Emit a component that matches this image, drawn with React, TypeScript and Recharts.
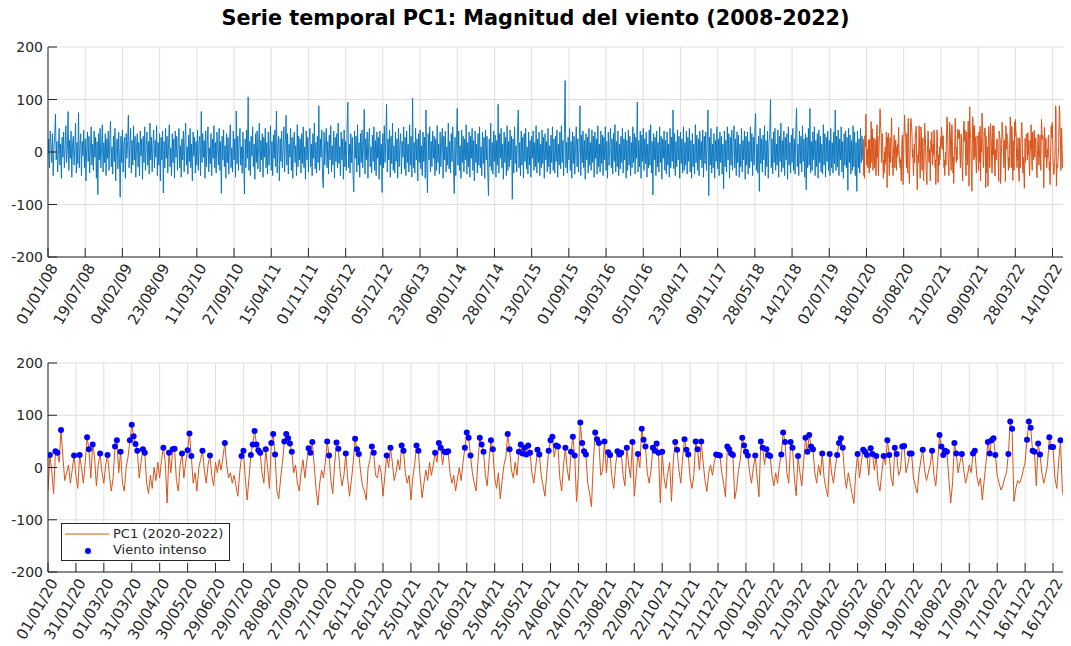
import React from "react";
import { ComposedChart, Line, Scatter, XAxis, YAxis, CartesianGrid } from "recharts";

// PC1 2008-2019, one value every 4 days
const pc1Historico = [
  -5, 25, -30, 40, 12, -20, 35, -45, 8, 30, 72, -15, 20, -38, 5, 45, -25, 15, -50, 28,
  -10, 38, -30, 10, 50, -20, 5, 77, -35, 22, -12, 40, -48, 15, 30, -25, 8, 55, -40, 18,
  -22, 75, -30, 12, 35, -45, 20, -8, 42, -30, 25, -55, 10, 38, -18, 30, -40, 5, 48, -25,
  15, -35, 40, -10, 28, -50, 20, -81, 35, -15, 45, -30, 8, 52, -38, 18, -20, 35, -45, 25,
  -12, 40, -35, 20, 58, -28, 10, -42, 30, -18, 45, -55, 15, 25, -32, 38, -10, -86, 30, -20,
  42, -38, 15, 28, -50, 35, -12, 20, 70, -30, 10, 45, -40, 22, -25, 50, -15, 30, -48, 12,
  35, -28, 18, -45, 40, -8, 25, -52, 30, -20, 48, -35, 10, 38, -25, 20, -42, 55, -15, 28,
  -38, 15, 42, -30, 22, -10, 50, -45, 18, -25, 35, -55, 28, -15, 40, -78, 20, -30, 45, -12,
  30, -40, 15, 52, -28, 8, -45, 35, -20, 25, -50, 40, -10, 30, -35, 18, 45, -30, 12, -48,
  25, -15, 40, -38, 20, 55, -25, 10, -42, 32, -18, 45, -30, 15, -55, 38, -8, 28, -40, 20,
  -25, 42, -35, 18, 30, -45, 77, -20, 35, -10, 22, -50, 40, -28, 15, 48, -38, 8, -22, 35,
  -45, 25, -12, 50, -30, 18, -40, 38, 10, -25, 45, -35, 20, -79, 30, -15, 42, -28, 12, -50,
  35, -20, 28, -42, 15, 52, -30, 8, -38, 40, -15, 25, -48, 78, -22, 30, -35, 18, 45, -25,
  10, -40, 38, -18, -80, 25, -30, 42, -12, 105, -35, 20, -45, 30, -8, 48, -28, 15, -52, 35,
  -20, 40, -32, 12, 55, -38, 22, -15, 35, -48, 28, -10, 45, -30, 18, -42, 38, -25, 8, 50,
  -35, 20, -45, 32, -12, 42, -28, 78, -40, 15, 30, -55, 25, -18, 40, -30, 10, 48, -38, 22,
  70, -25, 35, -42, 15, -10, 45, -35, 28, -50, 20, 38, -20, 12, -45, 52, -28, 30, -15, 25,
  -40, 35, -22, 48, -30, 10, -52, 40, -15, 28, -38, 20, 45, -28, 15, -45, 35, -12, 55, -32,
  18, -40, 30, -20, 88, -35, 25, -10, 42, -48, -68, 38, -25, 15, 45, -30, 20, -42, 32, -15,
  50, -38, 12, -25, 40, -50, 28, -18, 35, -30, 55, -22, 10, -45, 38, -15, 25, -52, 42, -28,
  20, -35, 48, 95, -30, 15, -40, 35, -20, 28, -45, -76, 40, -12, 30, -38, 52, -25, 18, -48,
  35, -20, 42, -30, 12, 81, -42, 25, -15, 38, -50, 20, 45, -28, 10, -40, 32, -18, 48, -35,
  22, -45, 38, -12, 28, -52, 40, -25, 15, -77, 35, -30, 50, -20, 18, 91, -38, 25, -15, 42,
  -48, 30, -22, 55, -35, 12, -40, 38, -18, 25, -50, 45, -28, 15, 35, -42, 20, -10, 48, -32,
  28, -45, 40, -20, 15, -38, 52, -25, 30, -48, 103, -30, 18, -40, 45, -15, 25, -55, 35, -20,
  42, -32, 12, -45, 38, -18, 28, -50, 80, -25, -78, 35, -15, 48, -38, 20, -28, 40, -12, 30,
  -45, 25, -35, 50, -20, 15, -42, 38, -28, 22, 45, -50, 30, -15, 40, -38, 10, -25, 55, -32,
  20, -40, 35, -18, 48, -30, -79, 28, -45, 15, 83, -25, 40, -35, 12, -50, 42, -20, 30, -38,
  25, -15, 52, -42, 18, -28, 38, -48, 30, -12, 45, -35, 22, -55, 40, -20, 15, -40, 35, -25,
  48, -30, 10, -45, 38, -22, 28, -50, 42, -15, 30, -38, -83, 25, -28, 55, -35, 18, -42, 40,
  -18, 32, -48, 22, -25, 91, -40, 35, -12, 45, -30, 15, -52, 38, -20, 28, -45, 50, -35, 20,
  -28, 42, -15, 30, -90, 25, -40, 48, -22, 12, -38, 35, 80, -30, 18, -45, 40, -25, 28, -50,
  35, -18, 45, -32, 10, -42, 38, -25, 22, -48, 30, -12, 40, -35, 18, -28, 50, -40, 25, -20,
  38, -45, 15, -30, 42, -22, 28, -50, 35, -15, 20, -38, 45, -28, 12, -42, 32, -20, 48, -35,
  25, -40, 30, -18, 42, -48, 15, -25, 38, -32, 50, -20, 22, -45, 35, 136, -30, 18, -40, 28,
  -15, 45, -35, 20, -50, 38, -22, 30, -42, 12, 48, -28, 25, -38, 15, 88, -45, 32, -20, 40,
  -30, 22, -52, 35, -15, 28, -40, 45, -25, 18, -35, 42, -20, 30, -48, 38, -12, 25, -42, 50,
  -28, 15, -38, 40, -22, 32, -45, 28, -15, 48, -35, 20, -50, 38, -25, 12, 45, -30, 25, -42,
  35, -18, 52, -38, 20, -28, 40, -45, 15, -32, 30, -20, 45, -40, 25, -15, 38, -50, 22, -35,
  42, -25, 30, -45, 18, -30, 48, -20, 35, -42, 28, -12, 95, -38, 22, -28, 40, -50, 32, -18,
  45, -35, 25, -22, 38, -48, 15, -30, 42, -25, 52, -40, 20, -82, 35, -15, 28, -45, 40, -28,
  18, -38, 48, -20, 30, -52, 25, -12, 40, -35, 22, -42, 38, -25, 15, -48, 45, -30, 28, -18,
  80, -32, 35, -45, 20, -28, 42, -15, 30, -50, 38, -22, 25, -40, 48, -35, 18, -25, 40, -42,
  28, -18, 45, -38, 22, -50, 35, -28, 15, -42, 52, -20, 32, -35, 25, -45, 40, -15, 20, -30,
  42, -48, 30, -22, 38, -35, 18, 80, -83, 28, -25, 45, -40, 15, -30, 35, -50, 22, -18, 48,
  -32, 25, -45, 38, -20, 30, -42, 15, -70, 40, -28, 22, -38, 48, -15, 35, -50, 28, -25, 42,
  -35, 18, 50, -30, 25, -45, 38, -20, 32, -48, 15, -28, 45, -38, 22, -15, 40, -52, 30, -25,
  38, -42, 20, -30, 48, -18, 35, -45, 28, -25, 42, 73, -35, 15, -40, 30, -75, 45, -22, 25,
  -38, 32, -15, 50, -45, 22, -28, 40, -50, 18, 35, 100, -30, 25, -42, 38, -20, 45, -35, 15,
  -25, 42, -48, 30, -18, 55, -38, 22, -30, 40, -45, 28, -15, 35, -52, 48, -25, 18, -40, 32,
  -20, 45, -35, 25, -42, 38, 83, -28, 15, -45, 40, -22, 30, -38, 50, -18, 25, -48, 35, -72,
  28, -30, 45, -25, 83, -40, 20, -35, 38, -15, 48, -45, 22, -28, 35, -50, 42, -20, 30, -38,
  15, -42, 52, -25, 35, -48, 28, -18, 40, -35, 22, -45, 45, -30, 18, -40, 38, -22, 80, -35,
  30, -28, 42, -45, 25, -15, 48, -38, 20, -50, 35, -25, 40, -30, 28, -73, 45, -20, 32, -42,
  22, -35, 50, -28, 38, -45, 18, -75, 40, -30, 25, -40, 45, -20, 30, -15,
];

// PC1 2020-2022, one value every 2 days
const pc1Reciente = [
  -45, 24, -5, -50, 31, 28, 10, 72, 20, -25,
  -10, 5, -30, -5, 23, -15, -40, 24, 0, -30,
  10, 58, 35, -20, 44, 20, -35, 5, 27, -10,
  -30, 5, 24, -15, -45, -20, 40, 52, -10, 30,
  -30, -45, 0, 20, 52, 82, 60, 45, 32, -20,
  10, 35, 28, -30, -50, -15, -40, 0, -25, 10,
  -20, 15, 38, 10, -68, 28, -10, 35, 36, -25,
  -45, 5, 27, -20, 10, 33, 65, 22, -30, -10,
  -45, 0, 15, 32, -5, -30, 5, 23, -15, -35,
  10, -10, 15, -5, 20, 47, 5, -20, -10, -30,
  -15, -35, -55, -10, 22, 32, -20, -62, -20, 24,
  44, 70, 44, 33, 28, -10, -30, 35, 0, -40,
  47, 64, 25, -45, -60, -20, 10, 50, 64, 56,
  46, 30, -10, 5, -30, -45, -10, 15, -20, 10,
  37, 28, 49, 5, -40, -72, -30, -5, -20, 10,
  50, 23, -25, -50, 5, 48, 36, -10, -35, -15,
  27, -20, -55, -25, 10, 55, 35, 26, -10, -35,
  -45, -62, 0, 15, 40, 28, -15, -20, 5, -10,
  -55, -15, 23, 0, 38, 10, -25, -10, 15, -5,
  42, 32, -10, -30, -15, -62, -20, 5, 42, 32,
  -20, -58, -30, -5, -25, 10, -15, 5, 28, 10,
  47, 38, 5, 30, 29, 31, -10, -30, -15, -45,
  -20, 0, -25, 10, 38, 67, 57, 23, -10, -30,
  -45, 10, 57, 44, 30, -15, -35, 15, 52, 35,
  -20, -40, -10, -60, -25, 5, 20, 64, 35, -5,
  -20, 10, -15, 30, 44, 27, 38, 25, 42, 28,
  -10, -30, 0, 34, 25, -15, -35, -55, -10, 32,
  52, 59, 20, 42, 40, -20, -45, 5, 38, -5,
  -25, 30, 59, 23, -65, -10, 86, 47, 31, 25,
  -30, -50, -75, 10, 67, 54, 47, -15, -5, 50,
  -10, 29, 24, -20, -40, 5, 31, 25, 28, -15,
  -35, 38, 5, -20, 49, -55, -15, 26, 0, 74,
  53, 40, -10, -30, -5, 38, 32, 46, 28, -68,
  30, -20, -40, -10, 10, -65, 15, 49, 34, -5,
  -30, 20, 54, 34, 25, -20, -40, -15, 50, 35,
  -5, 50, 10, -25, -46, -10, 5, -15, 10, 25,
  24, 23, -10, -30, -56, 40, 35, 27, 24, -60,
  -40, -5, 15, 57, 42, 30, 23, -10, -30, 0,
  23, -20, -56, 50, 38, 5, 35, 24, 22, -15,
  -35, -10, -30, 5, 25, 67, 49, -10, -30, 49,
  38, -20, -54, 22, -10, -35, 10, 57, 30, 62,
  40, 35, -10, -30, 5, -15, 27, -20, -40, -56,
  26, -10, -30, 0, 24, 47, 56, 38, -15, -40,
  -10, -30, -50, -69, -10, 26, -20, 10, 34, 30,
  24, -15, 37, 26, -5, 22, -30, -45, -10, 22,
  5, 52, 24, -20, -35, 38, 26, -15, -5, 40,
  41, -10, 5, 27, 27, -20, -35, -49, -10, 15,
  34, -5, -25, -10, 5, 32, -15, -35, 10, 62,
  40, 24, 32, 30, -20, -68, -30, 47, 27, -10,
  10, 26, -5, -30, -15, 5, -10, 27, 32, -15,
  -35, -20, -62, -25, 10, 49, 27, 52, 56, 24,
  -15, -30, -43, -35, -20, -10, 26, 88, 74, -65,
  -40, -25, -30, -20, -5, 10, 53, 88, 76, 32,
  30, -35, 46, 25, -10, -30, -15, 5, 58, 39,
  39, -20, -40, 10, 52, -45, -60, -100,
];

const pasoHistorico = 4; // days between values
const pasoReciente = 2;
const inicioReciente = 4383; // 01/01/2020 counted in days from 01/01/2008
const finSuperior = 5478; // 31/12/2022
const finInferior = 1095;
const umbralIntenso = 22;

const etiquetasSuperior = [
  "01/01/08", "19/07/08", "04/02/09", "23/08/09", "11/03/10", "27/09/10", "15/04/11",
  "01/11/11", "19/05/12", "05/12/12", "23/06/13", "09/01/14", "28/07/14", "13/02/15",
  "01/09/15", "19/03/16", "05/10/16", "23/04/17", "09/11/17", "28/05/18", "14/12/18",
  "02/07/19", "18/01/20", "05/08/20", "21/02/21", "09/09/21", "28/03/22", "14/10/22",
];
const pasoEtiquetasSuperior = 200;

const etiquetasInferior = [
  "01/01/20", "31/01/20", "01/03/20", "31/03/20", "30/04/20", "30/05/20", "29/06/20",
  "29/07/20", "28/08/20", "27/09/20", "27/10/20", "26/11/20", "26/12/20", "25/01/21",
  "24/02/21", "26/03/21", "25/04/21", "25/05/21", "24/06/21", "24/07/21", "23/08/21",
  "22/09/21", "22/10/21", "21/11/21", "21/12/21", "20/01/22", "19/02/22", "21/03/22",
  "20/04/22", "20/05/22", "19/06/22", "19/07/22", "18/08/22", "17/09/22", "17/10/22",
  "16/11/22", "16/12/22",
];
const pasoEtiquetasInferior = 30;

const ticksY = [-200, -100, 0, 100, 200];

const serieHistorica = pc1Historico.map((v, i) => ({ t: i * pasoHistorico, v }));
const serieRecienteLarga = pc1Reciente.map((v, i) => ({ t: inicioReciente + i * pasoReciente, v }));
const serieReciente = pc1Reciente.map((v, i) => ({ t: i * pasoReciente, v }));
const vientoIntenso = serieReciente.filter((p) => p.v >= umbralIntenso);

const ticksSuperior = etiquetasSuperior.map((_, i) => i * pasoEtiquetasSuperior);
const ticksInferior = etiquetasInferior.map((_, i) => i * pasoEtiquetasInferior);

const EJE = "#262626";
const AZUL = "#0072BD";
const NARANJA = "#D95319";
const FUENTE = "'DejaVu Sans', sans-serif";
const ANGULO = 60;

function TickX(props: any) {
  const { x, y, payload, etiquetas, paso } = props;
  const label = etiquetas[Math.round(payload.value / paso)];
  const ax = x + 6;
  const ay = y + 8;
  return (
    <g>
      <line x1={x} y1={y} x2={x} y2={y - 9} stroke={EJE} strokeWidth={1} />
      <text
        x={ax}
        y={ay}
        textAnchor="end"
        dominantBaseline="central"
        transform={`rotate(-${ANGULO} ${ax} ${ay})`}
        fontSize={15}
        fontFamily={FUENTE}
        fill={EJE}
      >
        {label}
      </text>
    </g>
  );
}

function TickY(props: any) {
  const { x, y, payload } = props;
  return (
    <g>
      <line x1={x} y1={y} x2={x + 9} y2={y} stroke={EJE} strokeWidth={1} />
      <text
        x={x - 5}
        y={y}
        textAnchor="end"
        dominantBaseline="central"
        fontSize={14}
        fontFamily={FUENTE}
        fill={EJE}
      >
        {payload.value}
      </text>
    </g>
  );
}

function Punto(props: any) {
  return <circle cx={props.cx} cy={props.cy} r={3} fill="#0000FF" />;
}

export default function App() {
  return (
    <div
      style={{
        position: "relative",
        width: 1071,
        height: 646,
        marginLeft: -8,
        marginTop: -8,
        background: "#fff",
        fontFamily: FUENTE,
      }}
    >
      <div
        style={{
          position: "absolute",
          top: 6,
          left: 0,
          width: 1071,
          textAlign: "center",
          fontSize: 20.8,
          fontWeight: "bold",
          color: "#000",
        }}
      >
        Serie temporal PC1: Magnitud del viento (2008-2022)
      </div>

      <div style={{ position: "absolute", top: 0, left: 0 }}>
        <ComposedChart width={1071} height={340} margin={{ top: 47, right: 4, bottom: 23, left: 0 }}>
          <CartesianGrid stroke="#dfdfdf" strokeWidth={1} />
          <XAxis
            type="number"
            dataKey="t"
            domain={[0, finSuperior]}
            ticks={ticksSuperior}
            interval={0}
            height={60}
            tickSize={0}
            tickMargin={0}
            axisLine={{ stroke: EJE }}
            allowDataOverflow
            tick={(p: any) => <TickX {...p} etiquetas={etiquetasSuperior} paso={pasoEtiquetasSuperior} />}
          />
          <YAxis
            type="number"
            dataKey="v"
            domain={[-200, 200]}
            ticks={ticksY}
            interval={0}
            width={48}
            tickSize={0}
            tickMargin={0}
            axisLine={{ stroke: EJE }}
            allowDataOverflow
            tick={(p: any) => <TickY {...p} />}
          />
          <Line
            data={serieHistorica}
            dataKey="v"
            type="linear"
            stroke={AZUL}
            strokeWidth={0.9}
            dot={false}
            isAnimationActive={false}
          />
          <Line
            data={serieRecienteLarga}
            dataKey="v"
            type="linear"
            stroke={NARANJA}
            strokeWidth={1}
            dot={false}
            isAnimationActive={false}
          />
        </ComposedChart>
      </div>

      <div style={{ position: "absolute", top: 316, left: 0 }}>
        <ComposedChart width={1071} height={330} margin={{ top: 47, right: 4, bottom: 14, left: 0 }}>
          <CartesianGrid stroke="#dfdfdf" strokeWidth={1} />
          <XAxis
            type="number"
            dataKey="t"
            domain={[0, finInferior]}
            ticks={ticksInferior}
            interval={0}
            height={60}
            tickSize={0}
            tickMargin={0}
            axisLine={{ stroke: EJE }}
            allowDataOverflow
            tick={(p: any) => <TickX {...p} etiquetas={etiquetasInferior} paso={pasoEtiquetasInferior} />}
          />
          <YAxis
            type="number"
            dataKey="v"
            domain={[-200, 200]}
            ticks={ticksY}
            interval={0}
            width={48}
            tickSize={0}
            tickMargin={0}
            axisLine={{ stroke: EJE }}
            allowDataOverflow
            tick={(p: any) => <TickY {...p} />}
          />
          <Line
            data={serieReciente}
            dataKey="v"
            type="linear"
            stroke={NARANJA}
            strokeWidth={1}
            dot={false}
            isAnimationActive={false}
          />
          <Scatter data={vientoIntenso} dataKey="v" shape={<Punto />} isAnimationActive={false} />
        </ComposedChart>
      </div>

      {/* legend */}
      <div
        style={{
          position: "absolute",
          left: 61,
          top: 523,
          width: 167,
          height: 36,
          border: `1px solid ${EJE}`,
          background: "#fff",
          fontSize: 13,
          color: EJE,
        }}
      >
        <svg width={50} height={36} style={{ position: "absolute", left: 0, top: 0 }}>
          <line x1={3} y1={10} x2={47} y2={10} stroke={NARANJA} strokeWidth={1} />
          <circle cx={26} cy={27} r={3} fill="#0000FF" />
        </svg>
        <div style={{ position: "absolute", left: 51, top: 2, whiteSpace: "nowrap" }}>PC1 (2020-2022)</div>
        <div style={{ position: "absolute", left: 51, top: 18, whiteSpace: "nowrap" }}>Viento intenso</div>
      </div>
    </div>
  );
}
